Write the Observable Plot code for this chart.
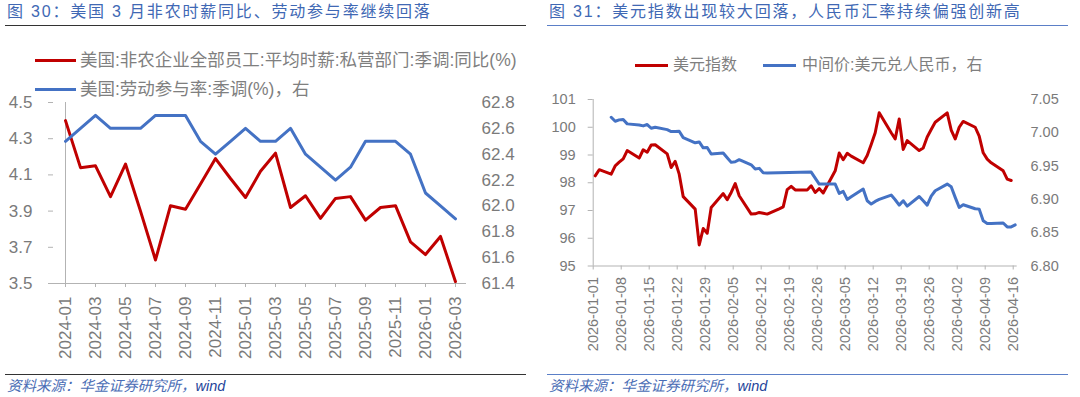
<!DOCTYPE html>
<html><head><meta charset="utf-8">
<script src="https://cdn.jsdelivr.net/npm/d3@7"></script>
<script src="https://cdn.jsdelivr.net/npm/@observablehq/plot@0.6"></script>
<style>
body{margin:0;background:#fff;}
#wrap{position:relative;width:1080px;height:397px;overflow:hidden;font-family:"Liberation Sans",Arial,"Noto Sans CJK SC",sans-serif;background:#fff;}
.abs{position:absolute;white-space:nowrap;}
.title{font-size:16px;letter-spacing:1.8px;color:#4068b4;line-height:20px;}
.leg{color:#7f7f7f;line-height:20px;}
.sw{position:absolute;height:3px;}
.src{font-size:14.5px;font-style:italic;color:#4a6db5;line-height:17px;}
.chart{position:absolute;top:92px;}
</style></head>
<body>
<div id="wrap">
  <div class="abs title" style="left:7px;top:2px;">图 30：美国 3 月非农时薪同比、劳动参与率继续回落</div>
  <div class="abs" style="left:5px;top:25px;width:521px;height:1px;background:#333;"></div>
  <div class="sw" style="left:35px;top:59px;width:41px;background:#C00000;"></div>
  <div class="abs leg" style="left:80px;top:50px;font-size:17.5px;">美国:非农企业全部员工:平均时薪:私营部门:季调:同比(%)</div>
  <div class="sw" style="left:35px;top:88px;width:41px;background:#4472C4;"></div>
  <div class="abs leg" style="left:80px;top:79px;font-size:17.5px;">美国:劳动参与率:季调(%)，右</div>
  <div id="c1" class="chart" style="left:0px;"></div>
  <div class="abs" style="left:5px;top:374px;width:521px;height:1px;background:#333;"></div>
  <div class="abs src" style="left:7px;top:378px;">资料来源：华金证券研究所，<span style="color:#24449a">wind</span></div>

  <div class="abs title" style="left:549px;top:2px;">图 31：美元指数出现较大回落，人民币汇率持续偏强创新高</div>
  <div class="abs" style="left:547px;top:25px;width:521px;height:1px;background:#5b7fc7;"></div>
  <div class="sw" style="left:635px;top:64px;width:33px;background:#C00000;"></div>
  <div class="abs leg" style="left:673px;top:55px;font-size:16px;">美元指数</div>
  <div class="sw" style="left:763px;top:64px;width:33px;background:#4472C4;"></div>
  <div class="abs leg" style="left:802px;top:55px;font-size:16px;">中间价:美元兑人民币，右</div>
  <div id="c2" class="chart" style="left:540px;"></div>
  <div class="abs" style="left:547px;top:374px;width:521px;height:1px;background:#5b7fc7;"></div>
  <div class="abs src" style="left:549px;top:378px;">资料来源：华金证券研究所，<span style="color:#24449a">wind</span></div>
</div>
<script>
// ---------- Figure 30 data ----------
const months = ["2024-01","2024-02","2024-03","2024-04","2024-05","2024-06","2024-07","2024-08","2024-09","2024-10","2024-11","2024-12",
  "2025-01","2025-02","2025-03","2025-04","2025-05","2025-06","2025-07","2025-08","2025-09","2025-10","2025-11","2025-12",
  "2026-01","2026-02","2026-03"];
const wageYoY = [4.40,4.14,4.15,3.98,4.16,3.90,3.63,3.93,3.91,4.05,4.19,4.08,
  3.975,4.12,4.22,3.92,3.985,3.86,3.97,3.98,3.85,3.92,3.93,3.73,
  3.66,3.76,3.51];
const lfpr = [62.5,62.6,62.7,62.6,62.6,62.6,62.7,62.7,62.7,62.5,62.4,62.5,
  62.6,62.5,62.5,62.6,62.4,62.3,62.2,62.3,62.5,62.5,62.5,62.4,
  62.1,62.0,61.9];
const monthTicks = ["2024-01","2024-03","2024-05","2024-07","2024-09","2024-11","2025-01","2025-03","2025-05","2025-07","2025-09","2025-11","2026-01","2026-03"];
const wageTicks = [3.5,3.7,3.9,4.1,4.3,4.5];
const lfprTicks = [61.4,61.6,61.8,62.0,62.2,62.4,62.6,62.8];

// ---------- Figure 31 data ----------
const dxyDates = ["2026-01-01","2026-01-02","2026-01-05","2026-01-06","2026-01-07","2026-01-08","2026-01-09","2026-01-12","2026-01-13","2026-01-14","2026-01-15","2026-01-16",
  "2026-01-19","2026-01-20","2026-01-21","2026-01-22","2026-01-23","2026-01-26","2026-01-27","2026-01-28","2026-01-29","2026-01-30",
  "2026-02-02","2026-02-03","2026-02-04","2026-02-05","2026-02-06","2026-02-09","2026-02-10","2026-02-11","2026-02-12","2026-02-13",
  "2026-02-16","2026-02-17","2026-02-18","2026-02-19","2026-02-20","2026-02-23","2026-02-24","2026-02-25","2026-02-26","2026-02-27",
  "2026-03-02","2026-03-03","2026-03-04","2026-03-05","2026-03-06","2026-03-09","2026-03-10","2026-03-11","2026-03-12","2026-03-13",
  "2026-03-16","2026-03-17","2026-03-18","2026-03-19","2026-03-20","2026-03-23","2026-03-24","2026-03-25","2026-03-26","2026-03-27",
  "2026-03-30","2026-03-31","2026-04-01","2026-04-02","2026-04-03","2026-04-06","2026-04-07","2026-04-08","2026-04-09","2026-04-10",
  "2026-04-13","2026-04-14","2026-04-15"];
const dxyValues = [98.25,98.47,98.31,98.61,98.74,98.86,99.16,98.89,99.19,99.10,99.36,99.37,
  99.04,98.55,98.77,98.31,97.50,97.05,95.76,96.35,96.18,97.11,
  97.61,97.39,97.65,97.97,97.53,96.87,96.88,96.93,96.90,96.87,
  97.06,97.13,97.75,97.87,97.74,97.74,97.89,97.65,97.79,97.63,
  98.43,99.07,98.83,99.06,98.96,98.72,98.98,99.38,99.80,100.52,
  99.80,99.58,100.30,99.20,99.52,99.16,99.25,99.65,99.92,100.18,
  100.52,99.90,99.58,100.00,100.21,100.00,99.68,99.08,98.85,98.72,
  98.43,98.13,98.08];
const cnyDates = ["2026-01-05","2026-01-06","2026-01-07","2026-01-08","2026-01-09","2026-01-12","2026-01-13","2026-01-14","2026-01-15","2026-01-16",
  "2026-01-19","2026-01-20","2026-01-21","2026-01-22","2026-01-23","2026-01-26","2026-01-27","2026-01-28","2026-01-29","2026-01-30",
  "2026-02-02","2026-02-03","2026-02-04","2026-02-05","2026-02-06","2026-02-09","2026-02-10","2026-02-11","2026-02-12","2026-02-13",
  "2026-02-24","2026-02-25","2026-02-26","2026-02-27",
  "2026-03-02","2026-03-03","2026-03-04","2026-03-05","2026-03-06","2026-03-09","2026-03-10","2026-03-11","2026-03-12","2026-03-13",
  "2026-03-16","2026-03-17","2026-03-18","2026-03-19","2026-03-20","2026-03-23","2026-03-24","2026-03-25","2026-03-26","2026-03-27",
  "2026-03-30","2026-03-31","2026-04-01","2026-04-02","2026-04-03","2026-04-06","2026-04-07","2026-04-08","2026-04-09","2026-04-10",
  "2026-04-13","2026-04-14","2026-04-15","2026-04-16"];
const cnyValues = [7.0234,7.0173,7.0194,7.0200,7.0134,7.0118,7.0104,7.0124,7.0068,7.0083,
  7.0048,7.0018,7.0020,7.0023,6.9928,6.9850,6.9863,6.9775,6.9780,6.9682,
  6.9697,6.9625,6.9556,6.9565,6.9597,6.9520,6.9456,6.9466,6.9400,6.9396,
  6.9410,6.9320,6.9230,6.9230,
  6.9230,6.9090,6.9120,6.9000,6.9040,6.9155,6.8980,6.8930,6.8970,6.9000,
  6.9065,6.8995,6.8914,6.8980,6.8900,6.9044,6.8980,6.8914,6.9050,6.9130,
  6.9230,6.9190,6.9030,6.8880,6.8920,6.8860,6.8854,6.8678,6.8637,6.8640,
  6.8645,6.8587,6.8587,6.8617];
const dayTicks = ["2026-01-01","2026-01-08","2026-01-15","2026-01-22","2026-01-29","2026-02-05","2026-02-12","2026-02-19","2026-02-26",
  "2026-03-05","2026-03-12","2026-03-19","2026-03-26","2026-04-02","2026-04-09","2026-04-16"];
const dxyTicks = [95,96,97,98,99,100,101];
const cnyTicks = [6.80,6.85,6.90,6.95,7.00,7.05];

const FONT = '"Liberation Sans", Arial, "Noto Sans CJK SC", sans-serif';
const AX = "#b3b3b3", TX = "#7a7a7a";

// ---------- Chart 1 ----------
{
  const L = [3.5, 4.5], R = [61.4, 62.8];
  const toL = v => L[0] + (v - R[0]) / (R[1] - R[0]) * (L[1] - L[0]);
  const fromL = v => R[0] + (v - L[0]) / (L[1] - L[0]) * (R[1] - R[0]);
  const data = months.map((m, i) => ({m, wage: wageYoY[i], lfpr: lfpr[i]}));
  const chart = Plot.plot({
    width: 540, height: 280,
    marginLeft: 53, marginRight: 74, marginTop: 10, marginBottom: 89,
    style: {background: "transparent", fontFamily: FONT, color: TX, overflow: "visible"},
    x: {type: "point", domain: months, padding: 0, label: null},
    y: {domain: L, label: null},
    marks: [
      Plot.ruleX([months[0]], {stroke: AX}),
      Plot.ruleY([L[0]], {stroke: AX}),
      Plot.axisY(wageTicks, {anchor: "left", tickSize: 5, tickPadding: 16, tickFormat: d => d.toFixed(1), fontSize: 17, stroke: AX, fill: TX, label: null}),
      Plot.axisY(lfprTicks.map(toL), {anchor: "right", tickSize: 0, tickPadding: 15, tickFormat: d => fromL(d).toFixed(1), fontSize: 17, fill: TX, label: null}),
      Plot.axisX(monthTicks, {anchor: "bottom", tickSize: 4, tickPadding: 9, tickRotate: -90, fontSize: 17, stroke: AX, fill: TX, label: null}),
      Plot.line(data, {x: "m", y: "wage", stroke: "#C00000", strokeWidth: 3}),
      Plot.line(data, {x: "m", y: d => toL(d.lfpr), stroke: "#4472C4", strokeWidth: 3})
    ]
  });
  document.getElementById("c1").appendChild(chart);
}

// ---------- Chart 2 ----------
{
  const L = [95, 101], R = [6.80, 7.05];
  const toL = v => L[0] + (v - R[0]) / (R[1] - R[0]) * (L[1] - L[0]);
  const fromL = v => R[0] + (v - L[0]) / (L[1] - L[0]) * (R[1] - R[0]);
  const noon = s => new Date(s + "T12:00:00Z");
  const day = s => new Date(s + "T00:00:00Z");
  const dxy = dxyDates.map((d, i) => ({date: noon(d), v: dxyValues[i]}));
  const cny = cnyDates.map((d, i) => ({date: noon(d), v: cnyValues[i]}));
  const chart = Plot.plot({
    width: 540, height: 280,
    marginLeft: 52.7, marginRight: 63.3, marginTop: 7, marginBottom: 106.5,
    style: {background: "transparent", fontFamily: FONT, color: TX, overflow: "visible"},
    x: {type: "utc", domain: [day("2026-01-01"), day("2026-04-17")], label: null},
    y: {domain: L, label: null},
    marks: [
      Plot.ruleX([day("2026-01-01")], {stroke: AX}),
      Plot.ruleY([L[0]], {stroke: AX}),
      Plot.axisY(dxyTicks, {anchor: "left", tickSize: 5, tickPadding: 12.5, tickFormat: d => String(d), fontSize: 14.5, stroke: AX, fill: TX, label: null}),
      Plot.axisY(cnyTicks.map(toL), {anchor: "right", tickSize: 0, tickPadding: 13.3, tickFormat: d => fromL(d).toFixed(2), fontSize: 14.5, fill: TX, label: null}),
      Plot.axisX(dayTicks.map(day), {anchor: "bottom", tickSize: 4, tickPadding: 7, tickRotate: -90, tickFormat: d => d.toISOString().slice(0, 10), fontSize: 14.5, stroke: AX, fill: TX, label: null}),
      Plot.line(dxy, {x: "date", y: "v", stroke: "#C00000", strokeWidth: 3}),
      Plot.line(cny, {x: "date", y: d => toL(d.v), stroke: "#4472C4", strokeWidth: 3})
    ]
  });
  document.getElementById("c2").appendChild(chart);
}
</script>
</body></html>
